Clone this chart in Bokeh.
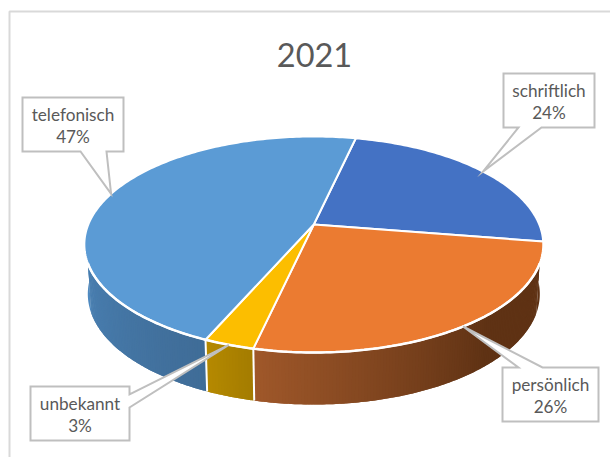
import math
from bokeh.core.properties import value
from bokeh.embed import file_html
from bokeh.models import Range1d
from bokeh.plotting import figure
from bokeh.resources import INLINE

# Shares of contact channels in 2021, clockwise from the first slice
categories = ["schriftlich", "persönlich", "unbekannt", "telefonisch"]
shares = [24, 26, 3, 47]
title_text = "2021"

top_colors = ["#4472C4", "#EB7B31", "#FCBE00", "#5B9BD5"]
# Side wall shade at the start and end of each slice, with the part of the span it blends over
wall_shades = [
    ("#5F3214", "#5F3214", 0.0, 1.0),
    ("#5F3214", "#A0582A", 0.42, 1.0),
    ("#B68A00", "#A47C00", 1.0, 0.0),
    ("#3F6C97", "#4F8AC0", 0.0, 0.45),
]

# Callout boxes: left, top, right, bottom, and the pointer's base
boxes = {
    "schriftlich": (503, 73, 594, 127, ("bottom", 518, 541)),
    "persönlich": (502, 367, 598, 421, ("top", 518, 542)),
    "unbekannt": (30, 386, 129, 440, ("right", 394, 407)),
    "telefonisch": (22, 97, 123, 151, ("bottom", 80, 106)),
}

# Perspective view of the disc
CX, CY = 313.3, 224.0
A, B, K = 225.5, 104.3, 0.185
DEPTH, SHRINK_X, GROW_Y = 49.0, 0.985, 1.024
START_DEG = 12.7
# Angles where the visible wall begins and ends on the upper rim
WALL_FROM, WALL_TO = 110.5, 249.5
# Angles of the lower rim's widest points
LOWER_RIGHT, LOWER_LEFT = 88.0, 272.0


def rim(deg, lower=False):
    t = math.radians(deg)
    u, v = math.sin(t), math.cos(t)
    w = 1 + K * v
    if lower:
        return CX + SHRINK_X * A * u / w, CY + DEPTH - GROW_Y * B * v / w
    return CX + A * u / w, CY - B * v / w


def arc(a0, a1, step=1.0, lower=False):
    n = max(2, int(abs(a1 - a0) / step) + 1)
    return [rim(a0 + (a1 - a0) * i / (n - 1), lower) for i in range(n)]


def blend(c0, c1, f):
    f = max(0.0, min(1.0, f))
    a = [int(c0[i:i + 2], 16) for i in (1, 3, 5)]
    b = [int(c1[i:i + 2], 16) for i in (1, 3, 5)]
    return "#%02x%02x%02x" % tuple(round(x + (y - x) * f) for x, y in zip(a, b))


p = figure(width=610, height=457, output_backend="svg", toolbar_location=None,
           x_range=Range1d(0, 610), y_range=Range1d(457, 0), min_border=0,
           outline_line_color=None, background_fill_color="white")
p.axis.visible = False
p.grid.visible = False

# Chart frame, open towards the right and the bottom
p.line([9, 9, 610], [457, 11, 11], line_color="#D9D9D9", line_width=2)

total = sum(shares)
edges = [START_DEG]
for s in shares:
    edges.append(edges[-1] + 360.0 * s / total)

# Tangent pieces that close the wall's silhouette on both sides
right_cap = [rim(WALL_FROM)] + arc(WALL_FROM, LOWER_RIGHT, lower=True)
left_cap = [rim(WALL_TO)] + arc(WALL_TO, LOWER_LEFT, lower=True)
p.patch([q[0] for q in right_cap], [q[1] for q in right_cap],
        fill_color=wall_shades[1][0], line_color=None)
p.patch([q[0] for q in left_cap], [q[1] for q in left_cap],
        fill_color=wall_shades[3][1], line_color=None)

# Side wall: overlapping strips between the upper and lower rim, shading along each slice
for i, (a0, a1) in enumerate(zip(edges[:-1], edges[1:])):
    lo, hi = max(a0, WALL_FROM), min(a1, WALL_TO)
    if lo >= hi:
        continue
    c0, c1, f0, f1 = wall_shades[i]
    steps = max(2, int((hi - lo) * 1.5))
    for j in range(steps):
        d0 = lo + (hi - lo) * j / steps
        d1 = min(hi, lo + (hi - lo) * (j + 2) / steps)
        frac = ((d0 - a0) / (a1 - a0) - f0) / (f1 - f0)
        pts = arc(d0, d1, step=0.5) + arc(d1, d0, step=0.5, lower=True)
        p.patch([q[0] for q in pts], [q[1] for q in pts],
                fill_color=blend(c0, c1, frac), line_color=None)

# Wall seams between slices
for e in edges:
    if WALL_FROM < (e % 360) < WALL_TO:
        a, b = rim(e), rim(e, True)
        p.line([a[0], b[0]], [a[1], b[1]], line_color="white", line_width=2)

# Top face
for i, (a0, a1) in enumerate(zip(edges[:-1], edges[1:])):
    pts = [(CX, CY)] + arc(a0, a1)
    p.patch([q[0] for q in pts], [q[1] for q in pts], fill_color=top_colors[i],
            line_color="white", line_width=2, line_join="round")

# Bright edge along the front of the top face
front = arc(WALL_FROM, WALL_TO)
p.line([q[0] for q in front], [q[1] for q in front], line_color="white", line_width=2.5)

# Callouts whose pointer ends on the rim at the middle of each slice
for i, name in enumerate(categories):
    left, top, right, bottom, (side, b0, b1) = boxes[name]
    tip = rim((edges[i] + edges[i + 1]) / 2)
    if side == "bottom":
        xs = [left, right, right, b1, tip[0], b0, left]
        ys = [top, top, bottom, bottom, tip[1], bottom, bottom]
    elif side == "top":
        xs = [left, b0, tip[0], b1, right, right, left]
        ys = [top, top, tip[1], top, top, bottom, bottom]
    else:
        xs = [left, right, right, tip[0], right, right, left]
        ys = [top, top, b0, tip[1], b1, bottom, bottom]
    p.patch(xs, ys, fill_color="white", line_color="#BFBFBF", line_width=2,
            line_join="miter")
    mid = (left + right) / 2
    p.text([mid], [top + 17], text=[name], text_font=value("Lato"),
           text_font_size="17.2px", text_color="#595959", text_align="center",
           text_baseline="middle")
    p.text([mid], [top + 39], text=[f"{shares[i]}%"], text_font=value("Lato"),
           text_font_size="17.2px", text_color="#595959", text_align="center",
           text_baseline="middle")

p.text([314], [54.5], text=[title_text], text_font=value("Lato"), text_font_size="32.5px",
       text_color="#595959", text_align="center", text_baseline="middle")

open("out.html", "w").write(file_html(p, INLINE))
